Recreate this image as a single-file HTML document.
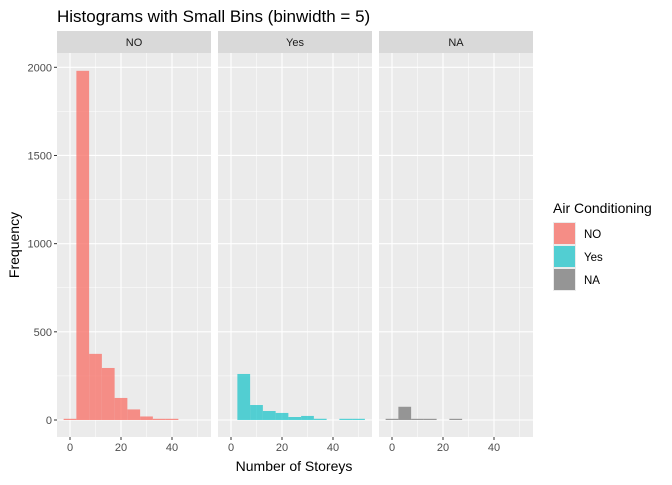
<!DOCTYPE html>
<html><head><meta charset="utf-8"><style>
body{margin:0;background:#fff}
text{font-family:"Liberation Sans",sans-serif}
</style></head><body>
<svg id="c" width="672" height="480">
<text x="57" y="22" font-size="17" fill="#000">Histograms with Small Bins (binwidth = 5)</text>
<text transform="translate(19,245) rotate(-90)" text-anchor="middle" font-size="14">Frequency</text>
<text x="294" y="471" text-anchor="middle" font-size="14">Number of Storeys</text>
<g>
<text x="553" y="213" font-size="14">Air Conditioning</text>
<rect x="553" y="222" width="23" height="23" fill="#ebebeb"/><rect x="554" y="223" width="21" height="21" fill="#F8766D" fill-opacity="0.8"/>
<text x="584" y="238" font-size="11.5">NO</text>
<rect x="553" y="245" width="23" height="23" fill="#ebebeb"/><rect x="554" y="246" width="21" height="21" fill="#00BFC4" fill-opacity="0.65"/>
<text x="584" y="261" font-size="11.5">Yes</text>
<rect x="553" y="268" width="23" height="23" fill="#ebebeb"/><rect x="554" y="269" width="21" height="21" fill="#7F7F7F" fill-opacity="0.8"/>
<text x="584" y="284" font-size="11.5">NA</text>
</g>
</svg>
<script>
const panels = ["NO","Yes","NA"];
const binCenters = [0,5,10,15,20,25,30,35,40,45,50];
const countsNO = [3,1980,375,295,125,60,20,3,3,0,0];
const countsYes = [0,261,85,51,40,17,23,7,0,2,2];
const countsNA = [1,75,2,2,0,2,0,0,0,0,0];
const yTicks = [0,500,1000,1500,2000];
const xTicks = [0,20,40];

const NS="http://www.w3.org/2000/svg";
const svgEl=document.getElementById('c');
const panelX=[57,218,379], panelW=154, panelTop=53, panelBottom=437, stripTop=31;
const colors=["#F8766D","#00BFC4","#7F7F7F"], ops=[0.8,0.65,0.8];
const series=[countsNO,countsYes,countsNA];
function yS(v){return 420 - v*(420-67.3)/2000;}
function mk(t,a){const e=document.createElementNS(NS,t);for(const k in a)e.setAttribute(k,a[k]);svgEl.appendChild(e);return e;}
panels.forEach((p,i)=>{
  const px=panelX[i];
  const xS=v=>px+13+v*2.55;
  const bg=mk('rect',{x:px,y:panelTop,width:panelW,height:panelBottom-panelTop,fill:'#ebebeb'});
  
  
  const st=mk('rect',{x:px,y:stripTop,width:panelW,height:panelTop-stripTop,fill:'#d9d9d9'});
  
  
  const sl=mk('text',{x:px+panelW/2,y:46,'text-anchor':'middle','font-size':'11',fill:'#1a1a1a'});
  sl.textContent=p;
  
  
  [250,750,1250,1750].forEach(v=>mk('line',{x1:px,x2:px+panelW,y1:yS(v),y2:yS(v),stroke:'#fff','stroke-width':0.5}));
  [10,30,50].forEach(v=>mk('line',{x1:xS(v),x2:xS(v),y1:panelTop,y2:panelBottom,stroke:'#fff','stroke-width':0.5}));
  yTicks.forEach(v=>mk('line',{x1:px,x2:px+panelW,y1:yS(v),y2:yS(v),stroke:'#fff','stroke-width':1.1}));
  xTicks.forEach(v=>{
    mk('line',{x1:xS(v),x2:xS(v),y1:panelTop,y2:panelBottom,stroke:'#fff','stroke-width':1.1});
    mk('line',{x1:xS(v),x2:xS(v),y1:panelBottom,y2:panelBottom+3,stroke:'#333'});
    const t=mk('text',{x:xS(v),y:panelBottom+14,'text-anchor':'middle','font-size':'11',fill:'#4d4d4d'});
    t.textContent=v;
    
    
  });
  series[i].forEach((c,j)=>{
    if(c<=0)return;
    const x0=xS(binCenters[j]-2.5),x1=xS(binCenters[j]+2.5);
    const h=Math.max(yS(0)-yS(c),1.2);
    const r=mk('rect',{x:x0,y:yS(0)-h,width:x1-x0,height:h,fill:colors[i],'fill-opacity':ops[i]});
    
    
  });
});
yTicks.forEach(v=>{
  mk('line',{x1:54,x2:57,y1:yS(v),y2:yS(v),stroke:'#333'});
  const t=mk('text',{x:52,y:yS(v)+4,'text-anchor':'end','font-size':'11',fill:'#4d4d4d'});
  t.textContent=v;
  
  
});
</script>
</body></html>
